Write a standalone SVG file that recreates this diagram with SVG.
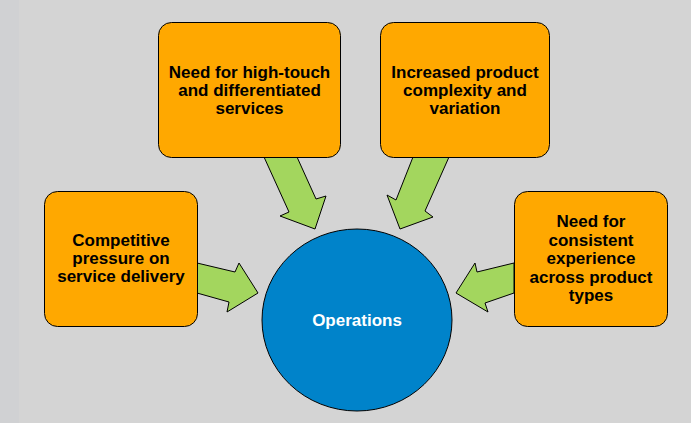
<svg xmlns="http://www.w3.org/2000/svg" width="691" height="423" viewBox="0 0 691 423">
<style>
.box{fill:#FFA800;stroke:#000;stroke-width:1}
.arrow{fill:#A3D65E;stroke:#000;stroke-width:1;stroke-linejoin:miter}
.t{font-family:"Liberation Sans",Arial,sans-serif;font-weight:bold;font-size:17px;text-anchor:middle;fill:#000}
.w{fill:#fff}
</style>
<rect x="0" y="0" width="691" height="423" fill="#D4D4D4"/>
<rect x="0" y="0" width="19" height="423" fill="#D0D1D3"/>
<g id="connectors">
<polygon class="arrow" points="264,157 297,157 316,199 326,196 315,229 280,216 289,212"/>
<polygon class="arrow" points="413,157 449,157 425,211 433,217 400,229 387,195 396,200"/>
<polygon class="arrow" points="197,263 235,272 239,263 258,293 227,312 229,302 197,293"/>
<polygon class="arrow" points="514,263 477,272 475,263 456,293 488,312 485,303 514,293"/>
</g>
<g id="node-high-touch">
<rect class="box" x="158.5" y="22.5" width="182" height="135" rx="13"/>
<text class="t" x="249.5" y="78">Need for high-touch</text>
<text class="t" x="249.5" y="96">and differentiated</text>
<text class="t" x="249.5" y="114">services</text>
</g>
<g id="node-complexity">
<rect class="box" x="380.5" y="22.5" width="169" height="135" rx="13"/>
<text class="t" x="465" y="78">Increased product</text>
<text class="t" x="465" y="96">complexity and</text>
<text class="t" x="465" y="114">variation</text>
</g>
<g id="node-competitive">
<rect class="box" x="44.5" y="191.5" width="153" height="135" rx="13"/>
<text class="t" x="121" y="246">Competitive</text>
<text class="t" x="121" y="264">pressure on</text>
<text class="t" x="121" y="282">service delivery</text>
</g>
<g id="node-consistent">
<rect class="box" x="514.5" y="191.5" width="153" height="135" rx="13"/>
<text class="t" x="591" y="227">Need for</text>
<text class="t" x="591" y="245.5">consistent</text>
<text class="t" x="591" y="264">experience</text>
<text class="t" x="591" y="282.5">across product</text>
<text class="t" x="591" y="301">types</text>
</g>
<g id="node-operations">
<ellipse cx="357" cy="320" rx="95" ry="91" fill="#0083CA" stroke="#000" stroke-width="1"/>
<text class="t w" x="357" y="326">Operations</text>
</g>
</svg>
